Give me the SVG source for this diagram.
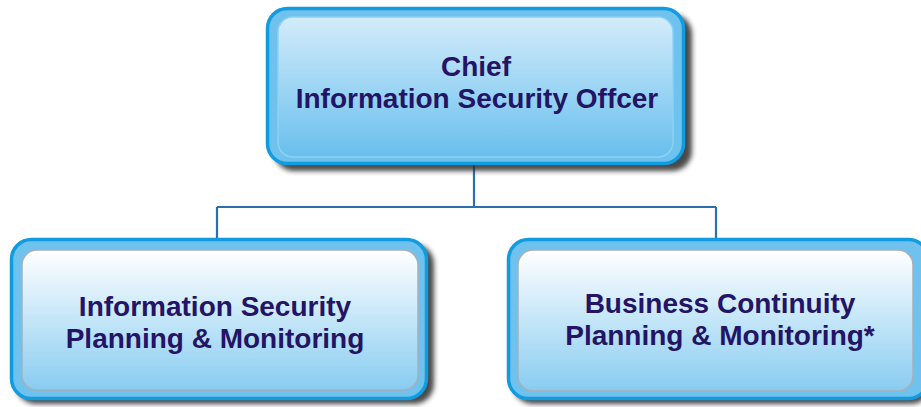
<svg xmlns="http://www.w3.org/2000/svg" width="921" height="407" viewBox="0 0 921 407">
<defs>
<linearGradient id="gTop" x1="0" y1="0" x2="0" y2="1">
<stop offset="0" stop-color="#d3ecfa"/>
<stop offset="1" stop-color="#68bfee"/>
</linearGradient>
<linearGradient id="gBot" x1="0" y1="0" x2="0" y2="1">
<stop offset="0" stop-color="#ffffff"/>
<stop offset="1" stop-color="#88ccf1"/>
</linearGradient>
<filter id="blur" x="-10%" y="-10%" width="120%" height="120%">
<feGaussianBlur stdDeviation="2.5"/>
</filter>
</defs>
<style>
.shadow{fill:#2b2b2b;filter:url(#blur);opacity:0.85}
.outer{fill:#6fc1ee;stroke:#129ce0;stroke-width:3.5}
.innerTop{fill:url(#gTop);stroke:#8dd2f2;stroke-width:1.5}
.innerBot{fill:url(#gBot);stroke:#a8b0b8;stroke-width:1.5}
.lbl{font-family:"Liberation Sans",Arial,sans-serif;font-weight:bold;font-size:28px;fill:#231465;text-anchor:middle}
.conn{fill:none;stroke:#2a70ad;stroke-width:2.2}
</style>
<g id="connectors">
<path class="conn" d="M474 165 V207 M217 207 H716 M217 207 V240 M716 207 V240"/>
</g>
<g id="ciso">
<rect class="shadow" x="274" y="14" width="418" height="157" rx="20"/>
<rect class="outer" x="267.5" y="8.5" width="416" height="155" rx="20"/>
<rect class="innerTop" x="278" y="17" width="395" height="140" rx="15"/>
<text class="lbl" x="476" y="76">Chief</text>
<text class="lbl" x="477" y="108">Information Security Offcer</text>
</g>
<g id="ispm">
<rect class="shadow" x="16" y="244" width="418" height="160" rx="20"/>
<rect class="outer" x="11.5" y="239.5" width="415" height="159" rx="20"/>
<rect class="innerBot" x="22" y="250" width="396" height="140" rx="15"/>
<text class="lbl" x="215" y="316">Information Security</text>
<text class="lbl" x="215" y="348">Planning &amp; Monitoring</text>
</g>
<g id="bcpm">
<rect class="shadow" x="513" y="244" width="418" height="160" rx="20"/>
<rect class="outer" x="508.5" y="239.5" width="420" height="159" rx="20"/>
<rect class="innerBot" x="518" y="250" width="395" height="141" rx="15"/>
<text class="lbl" x="720" y="313">Business Continuity</text>
<text class="lbl" x="720" y="345">Planning &amp; Monitoring*</text>
</g>
</svg>
